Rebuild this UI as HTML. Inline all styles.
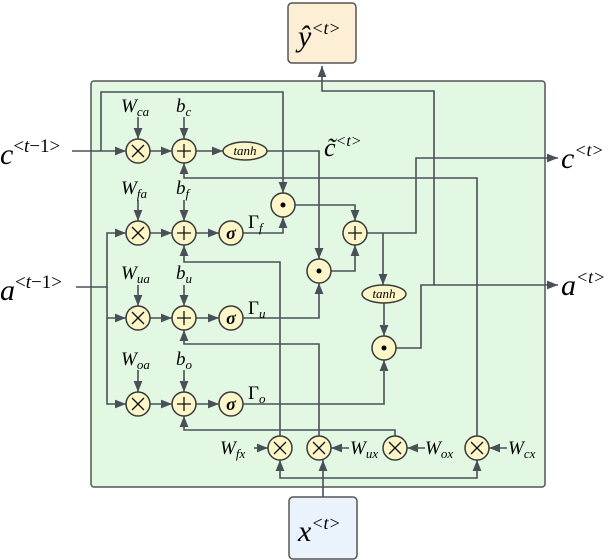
<!DOCTYPE html>
<html><head><meta charset="utf-8"><style>
body{margin:0;background:#fff}
svg{display:block}
text{font-family:"Liberation Serif",serif;font-style:italic;fill:#000}
.l{stroke:#4a5058;stroke-width:1.6;fill:none}
.n{fill:#fdf6c8;stroke:#3a3a3a;stroke-width:1.5}
</style></head><body>
<svg width="608" height="560" viewBox="0 0 608 560">
<defs><marker id="a" viewBox="0 0 10 10" refX="10" refY="5" markerWidth="7" markerHeight="7" orient="auto"><path d="M0,1 L10,5 L0,9z" fill="#4a5058"/></marker></defs>
<rect x="91" y="81" width="454" height="406" rx="3" fill="#e2f8e2" stroke="#555" stroke-width="1.5"/>
<rect x="288" y="3" width="68" height="60" rx="4" fill="#fdefd6" stroke="#555" stroke-width="1.5"/>
<rect x="289" y="497" width="68" height="62" rx="4" fill="#eaf2fc" stroke="#555" stroke-width="1.5"/>
<text x="298" y="46" font-size="30">ŷ<tspan font-size="18" dy="-12">&lt;t&gt;</tspan></text>
<text x="298" y="541" font-size="30">x<tspan font-size="18" dy="-12">&lt;t&gt;</tspan></text>
<g class="l" marker-end="url(#a)">
<path d="M72 151 H126"/><path d="M101 151 V92 H283 V193"/>
<path d="M150 151 H172"/><path d="M196 151 H223"/>
<path d="M267 151 H319 V259"/>
<path d="M477 436 V178 H184 V163"/>
<path d="M76 287 H107 V233 H126"/><path d="M107 287 V318 H126"/><path d="M107 318 V404 H126"/>
<path d="M150 233 H172"/><path d="M196 233 H219"/><path d="M243 233 H283 V217"/>
<path d="M150 318 H172"/><path d="M196 318 H219"/><path d="M243 318 H319 V283"/>
<path d="M150 404 H172"/><path d="M196 404 H219"/><path d="M243 404 H384 V360"/>
<path d="M295 205 H355 V221"/><path d="M331 271 H355 V245"/>
<path d="M367 233 H416 V158 H558"/>
<path d="M383 233 V285"/><path d="M384 303 V336"/>
<path d="M396 348 H421 V285 H558"/>
<path d="M434 285 V91 H322 V66"/>
<path d="M280 436 V262 H184 V245"/><path d="M319 436 V344 H184 V330"/><path d="M395 436 V430 H184 V416"/>
<path d="M138 117 V139"/><path d="M184 117 V139"/><path d="M138 200 V221"/><path d="M184 200 V221"/>
<path d="M138 285 V306"/><path d="M184 285 V306"/><path d="M138 370 V392"/><path d="M184 370 V392"/>
<path d="M254 448 H268"/><path d="M349 448 H331"/><path d="M425 448 H407"/><path d="M507 448 H489"/>
<path d="M323 478 H280 V460"/><path d="M323 478 V460"/><path d="M323 478 H477 V460"/>
</g>
<path class="l" d="M323 497 V478"/>
<g>
<circle class="n" cx="138" cy="151" r="12"/><circle class="n" cx="184" cy="151" r="12"/>
<circle class="n" cx="138" cy="233" r="12"/><circle class="n" cx="184" cy="233" r="12"/><circle class="n" cx="231" cy="233" r="12"/>
<circle class="n" cx="138" cy="318" r="12"/><circle class="n" cx="184" cy="318" r="12"/><circle class="n" cx="231" cy="318" r="12"/>
<circle class="n" cx="138" cy="404" r="12"/><circle class="n" cx="184" cy="404" r="12"/><circle class="n" cx="231" cy="404" r="12"/>
<circle class="n" cx="283" cy="205" r="12"/><circle class="n" cx="355" cy="233" r="12"/><circle class="n" cx="319" cy="271" r="12"/><circle class="n" cx="384" cy="348" r="12"/>
<circle class="n" cx="280" cy="448" r="12"/><circle class="n" cx="319" cy="448" r="12"/><circle class="n" cx="395" cy="448" r="12"/><circle class="n" cx="477" cy="448" r="12"/>
<ellipse class="n" cx="245" cy="151" rx="22" ry="9"/><ellipse class="n" cx="384" cy="294" rx="22" ry="9"/>
</g>
<g stroke="#111" stroke-width="1.3">
<path d="M132 145l12 12M144 145l-12 12"/><path d="M132 227l12 12M144 227l-12 12"/><path d="M132 312l12 12M144 312l-12 12"/><path d="M132 398l12 12M144 398l-12 12"/>
<path d="M274 442l12 12M286 442l-12 12"/><path d="M313 442l12 12M325 442l-12 12"/><path d="M389 442l12 12M401 442l-12 12"/><path d="M471 442l12 12M483 442l-12 12"/>
<path d="M184 144v14M177 151h14"/><path d="M184 226v14M177 233h14"/><path d="M184 311v14M177 318h14"/><path d="M184 397v14M177 404h14"/><path d="M355 226v14M348 233h14"/>
</g>
<g fill="#000"><circle cx="283" cy="205" r="2.5"/><circle cx="319" cy="271" r="2.5"/><circle cx="384" cy="348" r="2.5"/></g>
<g font-size="18" font-weight="bold" text-anchor="middle"><text x="231" y="239">σ</text><text x="231" y="324">σ</text><text x="231" y="410">σ</text></g>
<g font-size="13" text-anchor="middle"><text x="245" y="155">tanh</text><text x="384" y="298">tanh</text></g>
<g font-size="19">
<text x="121" y="112">W<tspan font-size="13" dy="4">ca</tspan></text><text x="176" y="112">b<tspan font-size="13" dy="4">c</tspan></text>
<text x="121" y="194">W<tspan font-size="13" dy="4">fa</tspan></text><text x="176" y="194">b<tspan font-size="13" dy="4">f</tspan></text>
<text x="121" y="279">W<tspan font-size="13" dy="4">ua</tspan></text><text x="176" y="279">b<tspan font-size="13" dy="4">u</tspan></text>
<text x="121" y="365">W<tspan font-size="13" dy="4">oa</tspan></text><text x="176" y="365">b<tspan font-size="13" dy="4">o</tspan></text>
<text x="248" y="228" style="font-style:normal">Γ<tspan font-size="13" dy="4" style="font-style:italic">f</tspan></text>
<text x="248" y="314" style="font-style:normal">Γ<tspan font-size="13" dy="4" style="font-style:italic">u</tspan></text>
<text x="248" y="399" style="font-style:normal">Γ<tspan font-size="13" dy="4" style="font-style:italic">o</tspan></text>
<text x="220" y="454">W<tspan font-size="13" dy="4">fx</tspan></text>
<text x="350" y="454">W<tspan font-size="13" dy="4">ux</tspan></text>
<text x="425" y="454">W<tspan font-size="13" dy="4">ox</tspan></text>
<text x="508" y="454">W<tspan font-size="13" dy="4">cx</tspan></text>
</g>
<text x="324" y="156" font-size="26">c̃<tspan font-size="16" dy="-10">&lt;t&gt;</tspan></text>
<text x="0" y="164" font-size="30">c<tspan font-size="19" dy="-12" style="font-style:normal">&lt;<tspan style="font-style:italic">t</tspan>−1&gt;</tspan></text>
<text x="0" y="300" font-size="30">a<tspan font-size="19" dy="-12" style="font-style:normal">&lt;<tspan style="font-style:italic">t</tspan>−1&gt;</tspan></text>
<text x="561" y="168" font-size="30">c<tspan font-size="18" dy="-12">&lt;t&gt;</tspan></text>
<text x="561" y="295" font-size="30">a<tspan font-size="18" dy="-12">&lt;t&gt;</tspan></text>
</svg>
</body></html>
